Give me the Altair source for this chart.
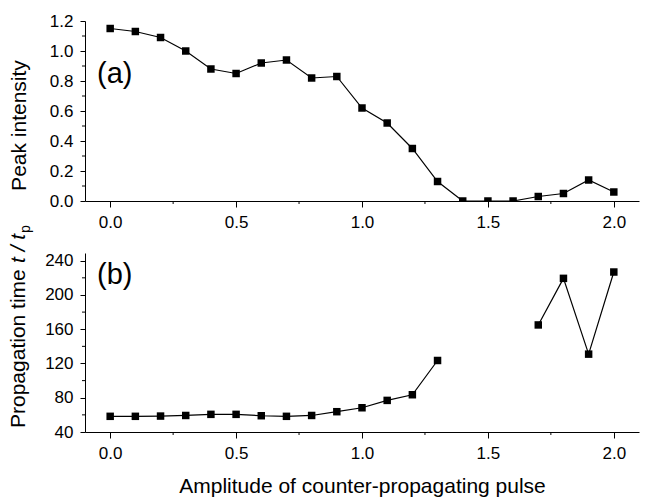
import altair as alt
import pandas as pd

# Amplitude of the counter-propagating pulse (shared x for both panels)
amplitude = [0.0, 0.1, 0.2, 0.3, 0.4, 0.5, 0.6, 0.7, 0.8, 0.9, 1.0,
             1.1, 1.2, 1.3, 1.4, 1.5, 1.6, 1.7, 1.8, 1.9, 2.0]

# Panel (a): peak intensity
peak_intensity = [1.15, 1.13, 1.09, 1.00, 0.88, 0.85, 0.92, 0.94, 0.82, 0.83, 0.62,
                  0.52, 0.35, 0.13, 0.00, 0.00, 0.00, 0.03, 0.05, 0.14, 0.06]

# Panel (b): propagation time t / t_p (no value where the pulse does not get through)
prop_time = [58.3, 58.3, 58.6, 59.3, 60.6, 60.6, 59.0, 58.3, 59.3, 63.7, 68.3,
             76.9, 83.5, 123.5, None, None, None, 165.0, 219.4, 130.9, 226.8]

x_major = [0.0, 0.5, 1.0, 1.5, 2.0]
x_minor = [0.25, 0.75, 1.25, 1.75]
ya_major = [0.0, 0.2, 0.4, 0.6, 0.8, 1.0, 1.2]
ya_minor = [0.1, 0.3, 0.5, 0.7, 0.9, 1.1]
yb_major = [40, 80, 120, 160, 200, 240]
yb_minor = [60, 100, 140, 180, 220]

FONT = "Liberation Sans"
W = 554
HA = 180
HB = 179
LEFT, TOP, RIGHT, BOTTOM = 85, 21, 8, 65

df_a = pd.DataFrame({"amplitude": amplitude, "intensity": peak_intensity})

rows_b = []
seg = 0
for a, t in zip(amplitude, prop_time):
    if t is None:
        seg += 1
        continue
    rows_b.append({"amplitude": a, "time": t, "seg": seg})
df_b = pd.DataFrame(rows_b)

x_scale = alt.Scale(domain=[-0.1, 2.1], nice=False, zero=False)
ya_scale = alt.Scale(domain=[0, 1.2], nice=False, zero=True)
yb_scale = alt.Scale(domain=[40, 249], nice=False, zero=False)

axis_common = dict(grid=False, domainColor="black", tickColor="black",
                   labelColor="black", titleColor="black", labelFont=FONT,
                   titleFont=FONT, labelFontSize=17, titleFontSize=21,
                   titleFontWeight="normal", domainWidth=1, tickWidth=1)


def x_axis(title):
    opts = dict(axis_common, values=x_major, format=".1f", tickSize=6,
                labelPadding=7)
    if title:
        opts.update(title=title, titlePadding=14)
    else:
        opts.update(title=None)
    return alt.Axis(**opts)


def minor_x(height, axis):
    return alt.Chart(pd.DataFrame({"amplitude": x_minor})).mark_rule(
        color="black", strokeWidth=1
    ).encode(
        x=alt.X("amplitude:Q", scale=x_scale, axis=axis),
        y=alt.value(height), y2=alt.value(height + 3),
    )


def minor_y(field, values, scale, axis):
    return alt.Chart(pd.DataFrame({field: values})).mark_rule(
        color="black", strokeWidth=1
    ).encode(
        y=alt.Y(f"{field}:Q", scale=scale, axis=axis),
        x=alt.value(0), x2=alt.value(-3),
    )


def panel_label(text, ypos):
    return alt.Chart(pd.DataFrame({"lab": [text]})).mark_text(
        font=FONT, fontSize=29, align="left", baseline="middle", color="black"
    ).encode(text="lab:N", x=alt.value(12), y=alt.value(ypos))


def frame_edge(ypos):
    # invisible horizontal rule that fixes the outer extent of the figure
    return alt.Chart(pd.DataFrame({"e": [0]})).mark_rule(
        opacity=0, strokeWidth=1
    ).encode(x=alt.value(-LEFT), x2=alt.value(W + RIGHT), y=alt.value(ypos))


# ---- panel (a)
xa_axis = x_axis(None)
ya_axis = alt.Axis(**dict(axis_common, values=ya_major, format=".1f", tickSize=5,
                          labelPadding=7, title="Peak intensity", titleAngle=270,
                          titleAlign="center", titleBaseline="top",
                          titleX=-77, titleY=104))

base_a = alt.Chart(df_a).encode(
    x=alt.X("amplitude:Q", scale=x_scale, axis=xa_axis),
    y=alt.Y("intensity:Q", scale=ya_scale, axis=ya_axis),
)
panel_a = alt.layer(
    base_a.mark_line(color="black", strokeWidth=1.2, clip=True),
    base_a.mark_point(shape="square", filled=True, size=56, color="black",
                      opacity=1, clip=True),
    minor_x(HA, xa_axis),
    minor_y("intensity", ya_minor, ya_scale, ya_axis),
    panel_label("(a)", 53),
    frame_edge(-TOP),
).properties(width=W, height=HA)

# ---- panel (b)
xb_axis = x_axis("Amplitude of counter-propagating pulse")
yb_axis = alt.Axis(**dict(axis_common, values=yb_major, format="d", tickSize=5,
                          labelPadding=7, title=None))

base_b = alt.Chart(df_b).encode(
    x=alt.X("amplitude:Q", scale=x_scale, axis=xb_axis),
    y=alt.Y("time:Q", scale=yb_scale, axis=yb_axis),
)

# y title built from pieces: regular text, italic t / t, subscript p
title_parts = alt.layer(
    alt.Chart(pd.DataFrame({"s": ["Propagation time"]})).mark_text(
        font=FONT, fontSize=21, angle=270, align="left", baseline="alphabetic",
        color="black"
    ).encode(text="s:N", x=alt.value(-60), y=alt.value(175)),
    alt.Chart(pd.DataFrame({"s": ["t / t"]})).mark_text(
        font=FONT, fontSize=21, fontStyle="italic", angle=270, align="left",
        baseline="alphabetic", color="black"
    ).encode(text="s:N", x=alt.value(-60), y=alt.value(10)),
    alt.Chart(pd.DataFrame({"s": ["p"]})).mark_text(
        font=FONT, fontSize=14, angle=270, align="left", baseline="alphabetic",
        color="black"
    ).encode(text="s:N", x=alt.value(-55), y=alt.value(-20)),
)

panel_b = alt.layer(
    base_b.mark_line(color="black", strokeWidth=1.2, clip=True).encode(detail="seg:N"),
    base_b.mark_point(shape="square", filled=True, size=56, color="black",
                      opacity=1, clip=True),
    minor_x(HB, xb_axis),
    minor_y("time", yb_minor, yb_scale, yb_axis),
    panel_label("(b)", 22),
    title_parts,
    frame_edge(HB + BOTTOM),
).properties(width=W, height=HB)

chart = alt.vconcat(panel_a, panel_b, spacing=52, bounds="flush").properties(
    padding=0,
    background="white",
).configure_view(stroke=None)

chart.save("out.html", embed_options={"renderer": "svg", "actions": False})
